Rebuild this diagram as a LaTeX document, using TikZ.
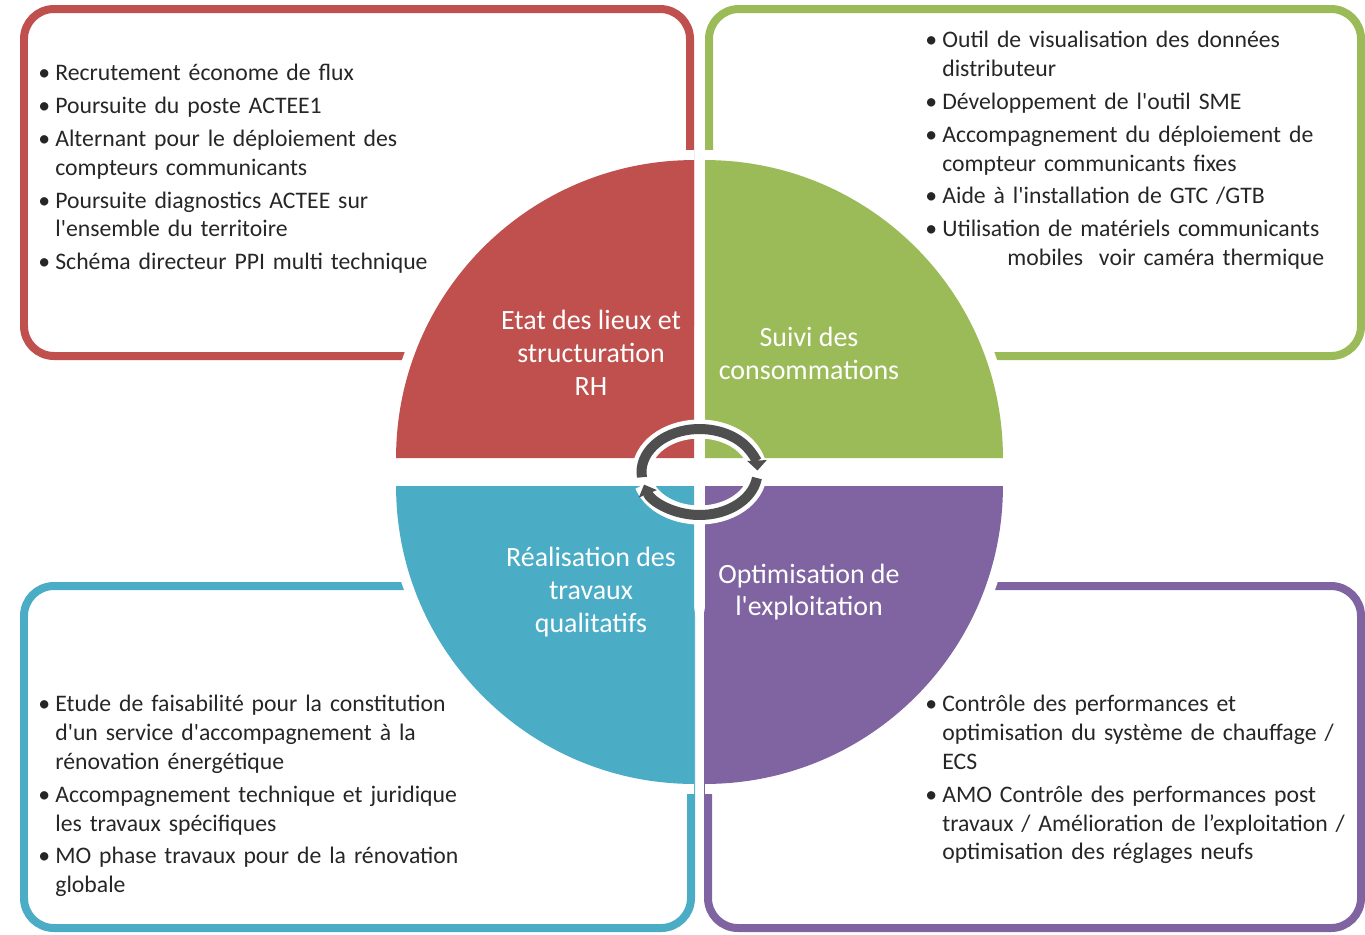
\documentclass[tikz,border=0pt]{standalone}
\usepackage{fontspec}
\setmainfont{Carlito}[Ligatures=TeXOff]
\usepackage{xcolor}
\usetikzlibrary{arrows.meta}

\definecolor{etatred}{HTML}{C0504D}
\definecolor{suivigreen}{HTML}{9BBB59}
\definecolor{travblue}{HTML}{4BACC6}
\definecolor{optpurple}{HTML}{8064A2}
\definecolor{ringgray}{HTML}{4F4F4F}
\definecolor{textgray}{HTML}{262626}

\newcommand{\puce}{\par\hangindent=0.34cm\hangafter=1\noindent\makebox[0.34cm][l]{\textbullet}}

\begin{document}
\begin{tikzpicture}[
    x=0.02cm, y=-0.02cm,
    cadre/.style={line width=0.16cm, rounded corners=0.6cm},
    liste/.style={anchor=base west, inner sep=0pt, text width=9cm, text=textgray,
        font=\fontsize{13.5}{16.4}\selectfont,
        execute at begin node={\setlength{\parskip}{0.08cm}}},
    pielabel/.style={text=white, align=center, inner sep=0pt, font=\fontsize{15.9}{18.7}\selectfont},
    ring/.style={draw=ringgray, line width=0.2cm, -{Triangle[length=0.2cm,width=0.38cm]},
        preaction={draw=white, line width=0.38cm, -}}
]
    \useasboundingbox (0,0) rectangle (1365,934);

    \draw[cadre, etatred] (24,9) rectangle (690,356);
    \draw[cadre, suivigreen] (709,9) rectangle (1361,356);
    \draw[cadre, travblue] (24,586) rectangle (691,928);
    \draw[cadre, optpurple] (708,586) rectangle (1361,928);

    % white rims round the quarters
    \fill[white] (694,458) -- ++(-6.16cm,0) arc[start angle=180, end angle=90, radius=6.16cm] -- cycle;
    \fill[white] (705,458) -- ++(0,6.16cm) arc[start angle=90, end angle=0, radius=6.16cm] -- cycle;
    \fill[white] (694,486) -- ++(-6.16cm,0) arc[start angle=180, end angle=270, radius=6.16cm] -- cycle;
    \fill[white] (705,486) -- ++(6.16cm,0) arc[start angle=0, end angle=-90, radius=6.16cm] -- cycle;

    \fill[etatred] (694,458) -- ++(-5.96cm,0) arc[start angle=180, end angle=90, radius=5.96cm] -- cycle;
    \fill[suivigreen] (705,458) -- ++(0,5.96cm) arc[start angle=90, end angle=0, radius=5.96cm] -- cycle;
    \fill[travblue] (694,486) -- ++(-5.96cm,0) arc[start angle=180, end angle=270, radius=5.96cm] -- cycle;
    \fill[optpurple] (705,486) -- ++(5.96cm,0) arc[start angle=0, end angle=-90, radius=5.96cm] -- cycle;

    \node[pielabel] (etat) at (591,353) {Etat des lieux et\\structuration\\RH};
    \node[pielabel] (suivi) at (809,353) {Suivi des\\consommations};
    \node[pielabel] (realisation) at (591,592) {Réalisation des\\travaux\\qualitatifs};
    \node[pielabel] (optim) at (809,592) {Optimisation de\\l'exploitation};

    \coordinate (ctr) at (699.5,472);
    \draw[ring] ([shift={(187:1.16cm and 0.86cm)}]ctr) arc[start angle=187, end angle=2, x radius=1.16cm, y radius=0.86cm];
    \draw[ring] ([shift={(-8:1.16cm and 0.86cm)}]ctr) arc[start angle=-8, end angle=-163, x radius=1.16cm, y radius=0.86cm];

    \node[liste] (etatlist) at (38,48) {%
        \puce Recrutement économe de flux
        \puce Poursuite du poste ACTEE1
        \puce Alternant pour le déploiement des\newline compteurs communicants
        \puce Poursuite diagnostics ACTEE sur\newline l'ensemble du territoire
        \puce Schéma directeur PPI multi technique\par};
    \node[liste] (suivilist) at (925,15) {%
        \puce Outil de visualisation des données\newline distributeur
        \puce Développement de l'outil SME
        \puce Accompagnement du déploiement de\newline compteur communicants fixes
        \puce Aide à l'installation de GTC /GTB
        \puce Utilisation de matériels communicants\newline\hspace*{1.3cm}mobiles\ \ voir caméra thermique\par};
    \node[liste] (realisationlist) at (38,679) {%
        \puce Etude de faisabilité pour la constitution\newline d'un service d'accompagnement à la\newline rénovation énergétique
        \puce Accompagnement technique et juridique\newline les travaux spécifiques
        \puce MO phase travaux pour de la rénovation\newline globale\par};
    \node[liste] (optimlist) at (925,679) {%
        \puce Contrôle des performances et\newline optimisation du système de chauffage /\newline ECS
        \puce AMO Contrôle des performances post\newline travaux / Amélioration de l’exploitation /\newline optimisation des réglages neufs\par};
\end{tikzpicture}
\end{document}
